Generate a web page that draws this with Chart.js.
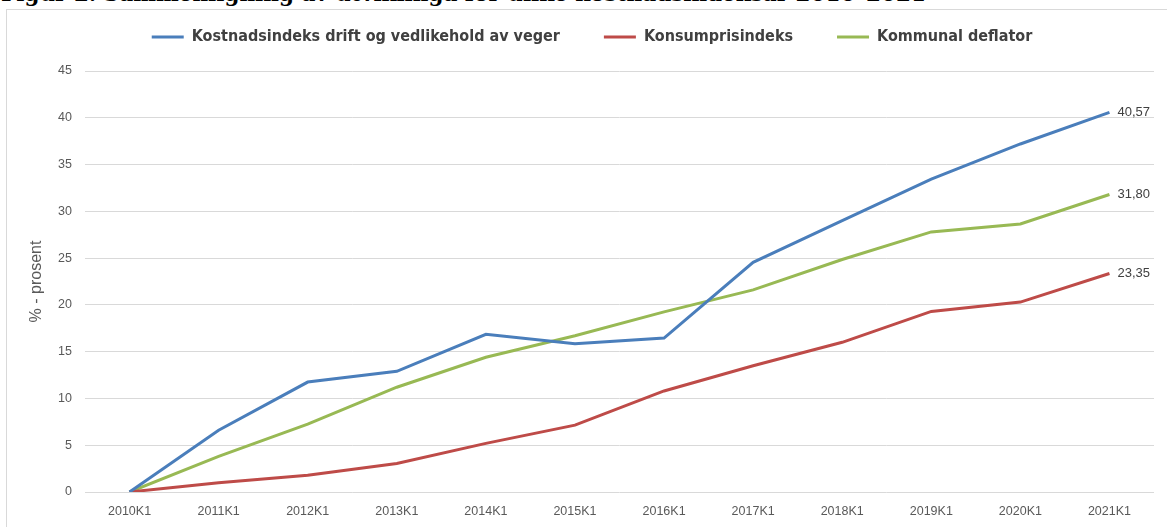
<!DOCTYPE html>
<html lang="no">

<head>
    <meta charset="UTF-8">
    <title>Figur 2 - Kostnadsindekser</title>
    <script src="https://cdn.jsdelivr.net/npm/chart.js"></script>
    <style>
        html, body { margin: 0; padding: 0; background: #fff; overflow: hidden; }
        body { width: 1167px; height: 527px; position: relative; }
        .fig-title {
            position: absolute; left: 1px; top: -17px; margin: 0;
            font: bold 21.5px/22px "DejaVu Serif", serif; color: #000; white-space: nowrap;
        }
        .frame {
            position: absolute; left: 6px; top: 9px; width: 1200px; height: 560px;
            border: 1px solid #d9d9d9; box-sizing: border-box;
        }
        .chart-box { position: absolute; left: 0; top: 0; width: 1167px; height: 527px; }
    </style>
</head>

<body>
    <p class="fig-title">Figur 2. Sammenligning av utviklinga for ulike kostnadsindeksar 2010–2021</p>
    <div class="frame"></div>
    <div class="chart-box"><canvas id="indeksChart"></canvas></div>

    <script>
        // Kategorier (første kvartal hvert år)
        const kvartaler = ["2010K1", "2011K1", "2012K1", "2013K1", "2014K1", "2015K1",
            "2016K1", "2017K1", "2018K1", "2019K1", "2020K1", "2021K1"];

        // Prosentvis endring fra 2010K1 (lest av figuren)
        const kostnadsindeksVeg = [0, 6.6, 11.75, 12.9, 16.85, 15.85, 16.45, 24.55, 29.0, 33.45, 37.2, 40.57];
        const konsumprisindeks = [0, 1.0, 1.8, 3.05, 5.2, 7.15, 10.8, 13.5, 16.0, 19.3, 20.3, 23.35];
        const kommunalDeflator = [0, 3.8, 7.25, 11.2, 14.4, 16.7, 19.25, 21.6, 24.85, 27.8, 28.65, 31.80];

        const grey = '#595959';
        const gridGrey = '#d9d9d9';

        // Verdi for siste punkt til høyre for linjene
        const lastValueLabels = {
            id: 'lastValueLabels',
            afterDatasetsDraw(chart) {
                const ctx = chart.ctx;
                ctx.save();
                ctx.font = '13px "Liberation Sans", Arial, sans-serif';
                ctx.fillStyle = '#404040';
                ctx.textAlign = 'left';
                ctx.textBaseline = 'middle';
                chart.data.datasets.forEach((ds, i) => {
                    const meta = chart.getDatasetMeta(i);
                    const last = meta.data[meta.data.length - 1];
                    const v = ds.data[ds.data.length - 1];
                    ctx.fillText(v.toFixed(2).replace('.', ','), last.x + 8, last.y);
                });
                ctx.restore();
            }
        };

        // Plassering av forklaringen: litt tettere mot plottet og litt mot høyre
        const legendPlacement = {
            id: 'legendPlacement',
            beforeUpdate(chart) {
                if (chart.legend && !chart.legend._patched) {
                    const fit = chart.legend.fit;
                    chart.legend.fit = function () {
                        fit.call(this);
                        this.height += 1;
                    };
                    chart.legend._patched = true;
                }
            },
            afterLayout(chart) {
                const lg = chart.legend;
                if (!lg) return;
                lg.top -= 15; lg.bottom -= 15;
                lg.left += 15; lg.right += 15;
            }
        };

        const ctx = document.getElementById('indeksChart').getContext('2d');
        new Chart(ctx, {
            type: 'line',
            data: {
                labels: kvartaler,
                datasets: [
                    { label: 'Kostnadsindeks drift og vedlikehold av veger', data: kostnadsindeksVeg, borderColor: '#4a7ebb', backgroundColor: '#4a7ebb' },
                    { label: 'Konsumprisindeks', data: konsumprisindeks, borderColor: '#be4b48', backgroundColor: '#be4b48' },
                    { label: 'Kommunal deflator', data: kommunalDeflator, borderColor: '#98b954', backgroundColor: '#98b954' }
                ]
            },
            options: {
                responsive: true,
                maintainAspectRatio: false,
                animation: false,
                elements: {
                    line: { borderWidth: 3, tension: 0 },
                    point: { radius: 0, hoverRadius: 0 }
                },
                layout: { padding: { top: 0, right: 13, left: 0, bottom: 0 } },
                plugins: {
                    tooltip: { enabled: false },
                    legend: {
                        position: 'top',
                        labels: {
                            color: '#404040',
                            font: { family: '"Liberation Sans Narrow", "DejaVu Sans Condensed", sans-serif', size: 16, weight: 'bold' },
                            boxWidth: 32,
                            boxHeight: 3,
                            padding: 44,
                            generateLabels(chart) {
                                const items = Chart.defaults.plugins.legend.labels.generateLabels(chart);
                                items.forEach(it => { it.lineWidth = 0; it.strokeStyle = 'transparent'; });
                                return items;
                            }
                        }
                    }
                },
                scales: {
                    x: {
                        offset: true,
                        grid: { display: false, drawTicks: false },
                        border: { display: false },
                        ticks: { color: grey, padding: 12, font: { family: '"Liberation Sans", Arial, sans-serif', size: 12.5 }, maxRotation: 0 },
                        afterFit(scale) { scale.height = 35; }
                    },
                    y: {
                        min: 0,
                        max: 45,
                        ticks: { stepSize: 5, color: grey, padding: 13, font: { family: '"Liberation Sans", Arial, sans-serif', size: 12.5 } },
                        grid: { color: gridGrey, lineWidth: 1, drawTicks: false },
                        border: { display: false },
                        title: {
                            display: true,
                            text: '% - prosent',
                            color: grey,
                            font: { family: '"Liberation Sans", Arial, sans-serif', size: 16 },
                            padding: { top: 27, bottom: 0 }
                        },
                        afterFit(scale) { scale.width = 85; }
                    }
                }
            },
            plugins: [lastValueLabels, legendPlacement]
        });
    </script>
</body>

</html>
